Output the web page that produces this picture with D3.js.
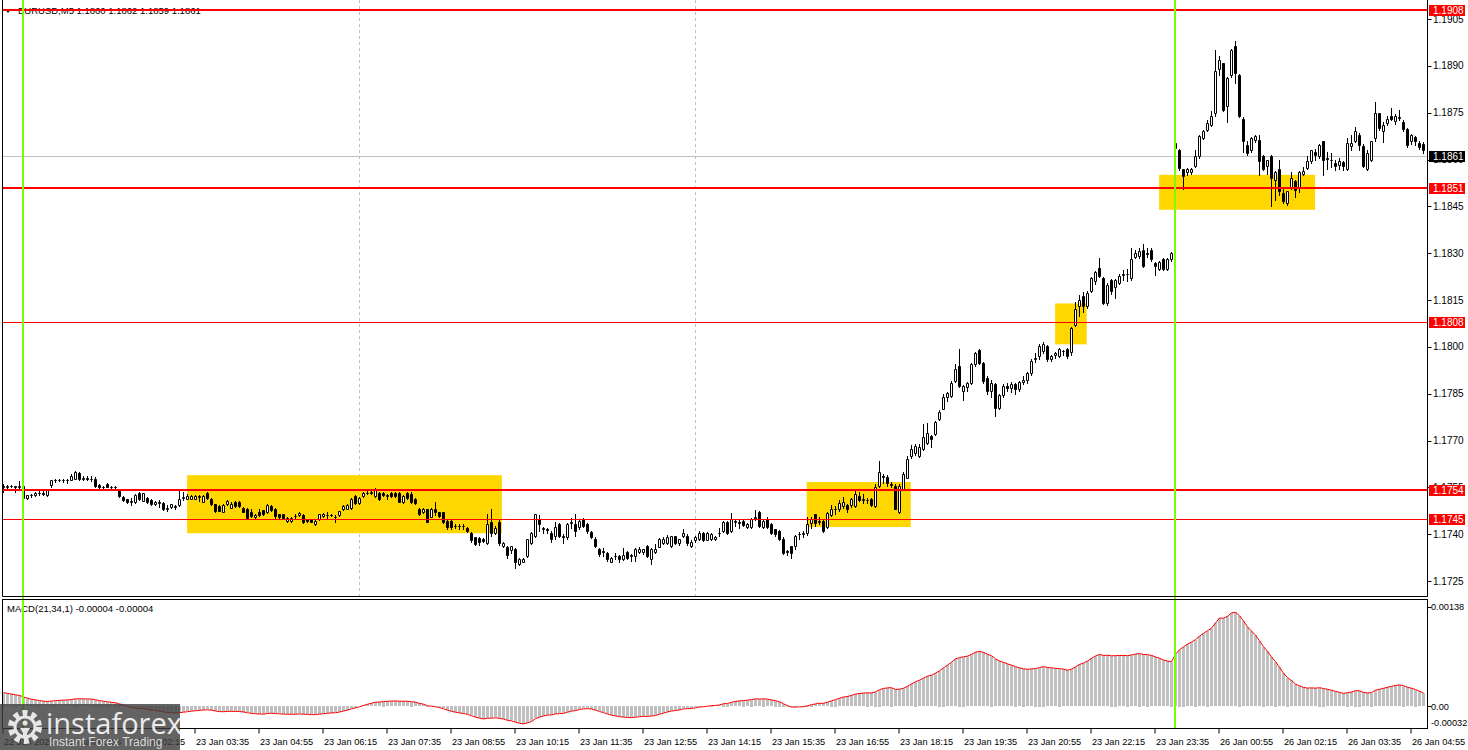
<!DOCTYPE html>
<html>
<head>
<meta charset="utf-8">
<script src="https://cdn.jsdelivr.net/npm/d3@7"></script>
<style>
body { margin: 0; background: #fff; }
svg text { font-family: 'Liberation Sans', Arial, sans-serif; }
</style>
</head>
<body>
<svg width="1468" height="750"></svg>
<script>
var svg = d3.select('svg');

// EURUSD M5 candles, values in pips above 1.1700 (one bar = 5 min, first bar 22 Jan 23:35)
var opens = [
    55.5,55,55.3,55.5,55.2,55.3,51.5,52.4,52.5,53.3,
    53.3,52.5,55.7,57.3,57.2,57.3,57.2,57.4,57.6,59.5,
    57.8,58.0,57.8,57.6,55.8,55,56.2,55.2,55.0,54.5,
    52.0,51.2,50.4,50.2,53.2,50.6,51.7,51.0,49.6,50.2,
    50.0,48.2,48.7,49.0,49.3,51.5,51.3,51.4,51.4,52.0,
    50.4,53.3,51.2,49.6,49.0,47.2,49.6,48.5,50.3,50.3,
    48.5,48.0,47.0,45.4,47.0,47.7,47.0,49.0,48.2,46.4,
    46.4,44.2,44.2,45.8,46.0,46.0,44.8,44.8,43.2,45.0,
    45.8,46.2,46.2,45.6,46.0,48.1,48.2,48.3,52.3,50.1,
    52.3,53.3,53.3,52.3,53.3,53.3,52.2,53.2,53.2,53.1,
    50.2,53.2,53.0,51.2,48.0,47.1,48.0,45.6,48.0,47.0,
    47.0,44.3,44.3,42.7,42.5,42.5,42.1,40.4,39.0,38.8,
    38.6,37.3,44.0,40.5,44.0,36.2,36.0,35.0,35.2,30.4,
    31.2,33.0,37.3,39.3,44.8,42,41.5,40.5,39.5,43.2,
    39.5,39.2,43.5,43.2,42.2,45,43.2,40.7,38.6,35.2,
    34.5,34.1,31.2,33.0,33.0,32.0,34.3,33,33,34.2,
    34.2,36.2,32.0,34.2,36.0,37.3,37.3,36.3,39.3,37.3,
    39.3,39.5,36.1,38.2,38.4,40.3,38.2,38.4,38.4,40.3,
    41.1,43.9,41.1,44.3,44.0,44.3,42.2,42.2,45.3,47.1,
    42.2,45,43.2,41.6,41,38.6,34.5,36.1,36.1,40,
    40.2,40.3,43.5,46.4,44.0,44.2,42.2,46.0,48.0,48.0,
    49.0,49.3,49.2,49.0,52.3,51.3,51.0,51.2,49.0,55.5,
    58.5,58.4,56.0,55.5,47.1,54.6,58.1,65.0,65.9,65.0,
    67.2,69.3,71.5,72.0,76.8,80.2,84.0,84.2,89.0,93.8,
    85.8,87.2,88.5,94.4,99,94.9,90.1,85.8,88,80.5,
    84.5,87.5,86.8,88,86.5,88.6,89.5,91.5,96,97,
    98.6,100.2,96,97.5,97,98.8,99.3,98.3,107.1,113,
    116.4,113,117.8,121,125.3,122.1,114.1,121.3,119.3,120.3,
    123,123.2,122,128.9,129,130.9,130,131,127,125,
    128.1,124.8,128,165.2,163.1,156.9,155.9,155.9,157.8,161.2,
    166.8,169.5,171.1,174.8,188.9,190.8,177.2,187.1,196.2,187.1,
    172.9,164.7,163.1,166.3,166.1,161,157.8,161.2,153.3,156.9,
    149.2,146.1,150.8,153,150.8,155.2,157.2,159.4,162.5,161,
    165.8,160.5,160,159,158.3,159.3,157,164.4,165.8,168,
    164.2,157,159.9,166.8,174.8,169,171.8,174,172.2,173.5,
    172.1,169.7,165.8,167.2,165.2,165
];
var highs = [
    56,55.6,55.8,55.5,57,55.3,52.6,52.8,53.6,53.8,
    53.8,54.6,57.5,57.8,57.8,57.7,57.8,59.2,60.3,59.8,
    58.7,58.5,58.6,58.2,56,55.5,56.5,55.4,55.3,54.5,
    52.2,51.2,51.5,52.8,53.5,53.3,51.8,51.2,50.5,50.8,
    50.2,49.3,49.8,49.4,54.3,53.6,52.8,52.6,52.5,52.6,
    52.6,53.6,51.5,49.8,49.2,49.8,50.8,50.2,50.5,50.5,
    48.7,48.5,48,46.4,48,47.8,49.6,49.2,48.3,46.5,
    46.5,45.5,45.5,46.5,47.1,46.5,45,45,44.5,46.6,
    46.8,47.2,46.5,46,47.5,49.4,49.6,51.6,52.5,52,
    53.5,53.8,54.4,54.8,53.6,53.5,52.8,53.5,53.5,53.5,
    52.6,53.5,53.4,51.5,48.5,48.3,48.2,48.3,50.2,47.2,
    47.2,44.5,44.5,43.2,43.3,43.2,42.3,40.6,39.2,39,
    38.8,46.4,48.2,42.5,44.5,37.6,36.2,36.3,35.5,32.5,
    32.4,38.6,40.6,46.6,46,42.3,42,41,44,43.5,
    40,43.5,45.3,46.4,44.8,45.3,43.5,41,39,35.5,
    35.6,34.3,32.6,34,33.2,35.5,34.5,33.6,35.5,35.8,
    35.4,36.5,35.6,37,38.7,39,39.6,39.5,39.5,38.6,
    41.5,40,38,39.5,41,40.8,40.6,40.4,39.5,42,
    44.2,44.2,46.8,44.6,44.8,44.6,43.5,45.2,47.6,47.4,
    44.6,45.4,43.5,41.8,41.2,39,35,36.3,39.8,40.8,
    41,45.5,45.5,46.6,45.5,45,47,49.5,49,51,
    51.8,49.6,51.6,54.4,53.5,53,51.5,51.5,56,63.5,
    59.3,58.8,56.8,56,56,60,65,68.5,69,68.8,
    75.2,75.7,71.7,76.2,79.9,84.8,85.5,89,94.5,99.2,
    87.8,88.8,94.8,98.5,99.4,95.2,90.5,89.5,88.5,85,
    88,88.5,88.8,88.5,89,90.5,92,96,98,101,
    101.5,100.5,97.5,98.5,99.6,99,99.6,106.5,114.3,116.5,
    117.5,117.8,122.5,124.2,128.5,122.5,120.3,121.6,121.6,123.2,
    124.5,125,131.5,131,131.5,133,131.5,131.5,127.2,127.5,
    128.5,128.5,130.5,166.5,163.5,157,157.2,157.2,163,168,
    169.5,172.5,175.5,195,193,191,186.5,195.5,198,187.5,
    173.5,166,167.3,168,168,161.5,160,161.5,156.2,160,
    150.5,150,156,153.4,156.2,157.5,161,163.2,163.5,165,
    166,162.5,162,160,160.5,159.6,167,168,170.5,168.5,
    165,163,166,178.5,175,172,174,176.6,174.5,175.8,
    172.5,170,168.2,167.5,166,165.5
];
var lows = [
    53.5,54.8,55,53.5,54.8,50.3,51.3,52,52.3,52.5,
    52.6,52.3,55,56.8,56.9,56.6,56.3,57.3,57.6,57.5,
    57.5,57.3,57,55,54.8,54.5,55,54.4,54.3,52.0,
    50.5,50.0,49.5,50,51,50.6,50,49.2,49.4,48.8,
    47.8,47.5,48.5,48,49.0,51,51.2,51.2,51.2,50.6,
    50.2,51.3,49.4,47,47.3,47,49.3,48.3,48.8,48.8,
    47,45,45.6,45.2,45.8,46.2,46.8,47.5,45.3,45.2,
    45.2,44.0,44,45.3,45.8,43.7,43.8,43.8,43.0,44.5,
    45.5,45.2,45.8,44,45.8,47.8,48,48,49.8,49.8,
    52,52.8,52.8,52,51,52.2,51.2,52,52,50.2,
    50,51.2,50,49.8,46.2,46.9,43.8,45.4,46.0,45.5,
    43.5,41.8,41.8,42,41.8,41.6,40.8,37.5,36.5,36.6,
    37.4,37.0,39.5,40,36.5,36,32.5,34,29.3,30,
    31,32.8,37,39,41,40.5,40.3,37.5,38.5,39,
    37.3,38.5,42,39.5,41.5,42.2,40.3,38.8,35.8,33,
    33,31.5,31,32,31,31.8,32.2,31.5,31.5,34,
    33.8,32.8,30.5,34,35.8,37,37,36,36.8,36.5,
    39,36.6,35.8,37.5,38,37.8,38,38,38,39.5,
    40.8,40,40.8,42.5,42,42.5,42,42,44.5,42.4,
    42,42,40,39.5,38.2,33.6,33.3,32.5,35.4,38.3,
    39,39.8,42,42.5,43.2,40.8,42,45.8,46.4,47.5,
    48.5,47.2,48.8,48.6,50.5,50,50,49,48.8,55,
    56.5,55.5,55,48,46.8,54.3,58,64.5,65.5,64.8,
    66.9,69,68,71.8,76.6,80,82.5,84,88.8,87,
    83.0,86,88,94,94.5,88.5,85,84,78,80,
    84,86,85.5,85,86,88,88.5,91,95,96,
    98,95.5,95.5,96.5,96.8,97.5,96.5,97.5,106.8,110,
    111,112.5,117.5,120,122.5,113.8,113.5,117,115.5,120,
    121.5,121,121.5,128.5,128.5,125.5,128.8,127.5,123,124.5,
    124.5,124.5,127.5,162.5,156.5,150.5,155,155.5,157.5,160.5,
    166.5,169,170.8,174,187,175.5,172,186.5,184.6,173.5,
    162.5,161.5,162.5,165.5,155,156.5,155.2,145,147,148.5,
    146,145.5,150.5,148,149.5,155,157,159,160,160.5,
    155,157,157.5,156.5,156.8,156.5,156.5,163,165.5,163,
    157.5,156.5,159.5,166,169.5,165.5,171,172.5,171.5,172.5,
    169,164,165,164.5,163.5,162
];
var closes = [
    55.0,55.3,55.5,55.2,55.4,51.5,52.4,52.5,53.3,53.3,
    53.0,54.2,57.3,57.2,57.3,57.2,57.4,58.7,60.0,57.7,
    58.0,57.8,57.6,55.3,55.0,55.2,55.2,55.0,55.1,52.3,
    51.0,50.2,50.6,52.5,51.4,53.1,50.2,49.6,50.2,50.0,
    48.2,48.5,49.6,48.8,51.4,51.8,52.3,52.3,52.2,52.2,
    52.3,51.5,49.6,47.3,47.5,49.3,50.5,49.8,49.1,49.0,
    47.2,45.3,45.9,46.2,46.0,46.4,49.3,47.9,45.7,45.4,
    45.3,45.3,45.3,45.9,46.9,44.0,44.1,44.0,44.2,46.4,
    46.4,46.0,46.2,45.5,47.3,49.1,49.3,51.2,50.1,51.7,
    53.3,53.2,53.4,54.4,51.2,52.4,52.6,52.3,52.3,50.4,
    52.3,51.5,50.2,50.1,46.4,48.0,44.0,48.1,47.0,45.8,
    43.8,42.2,42.2,42.6,42.5,42.6,41.1,38.2,37.0,37.5,
    37.7,43.2,40.3,42.0,37.3,37.3,33.3,36.1,31.2,32.2,
    32.2,38.4,40.3,46.4,43.2,41.7,41.3,38.4,42.2,39.5,
    39.0,43.2,43.8,41.1,44.3,42.7,41.1,39.2,36.1,33.6,
    34.3,32.0,32.4,33.0,32.0,33.3,32.5,33.2,35.2,35.4,
    35.2,33.0,35.2,35.4,38.4,38.6,39.2,39.3,37.1,38.4,
    40.5,37.3,37.5,39.2,40.5,38.2,40.3,40.0,39.2,40.5,
    43.9,40.3,44.8,44.0,43.5,42.9,43.3,44.8,45.5,42.7,
    44.3,42.2,40.5,40.0,38.6,34.1,34.2,34.1,39.5,40.2,
    40.3,43.2,44.8,43.7,44.2,41.1,46.7,48.2,48.2,50.1,
    50.3,48.2,51.2,53.0,51.0,51.0,50.8,49.3,55.2,60.0,
    58.3,56.3,55.6,48.2,55.5,59.2,64.2,67.2,68.2,68.0,
    71.2,72.5,70.4,75.9,79.1,84.0,85.2,88.5,93.0,87.4,
    87.4,88.3,94.4,98.1,94.9,89.0,85.8,88.4,80.5,84.5,
    87.5,86.8,88,86.5,88.6,89.5,91.5,95.5,96.5,100.2,
    101,96,97.2,98,99.3,98.6,97,106.1,112.2,115,
    113.2,117.3,122.1,123.9,122.8,114.1,119.9,117.8,121.3,122.8,
    123.3,123.4,128.1,130.2,130.6,126,129.8,128,125.8,127.1,
    125,128,130,163.7,157.2,154.6,156.9,156.9,161.2,167.6,
    169,171.6,173.8,188.2,191.9,175.9,186,195.1,187.8,173.8,
    165.8,162.0,166.8,167.6,159.4,157,159.7,154.1,155.9,149.8,
    146.6,149.8,154.1,150.1,155.9,156.2,159.4,162.9,161.5,164.7,
    159.9,160.3,159.8,157.8,159.4,157.8,165.2,165.2,169,164.7,
    157.8,162,165.8,174.8,170,171.1,172.9,172.9,174,173.3,
    169.7,164.7,167.9,165.8,164,162.9
];
var basePrice = 1.17;

// time axis labels, one every 16 bars
var timeLabels = [
    '22 Jan 2026', '23 Jan 00:55', '23 Jan 02:15', '23 Jan 03:35', '23 Jan 04:55',
    '23 Jan 06:15', '23 Jan 07:35', '23 Jan 08:55', '23 Jan 10:15', '23 Jan 11:35',
    '23 Jan 12:55', '23 Jan 14:15', '23 Jan 15:35', '23 Jan 16:55', '23 Jan 18:15',
    '23 Jan 19:35', '23 Jan 20:55', '23 Jan 22:15', '23 Jan 23:35', '26 Jan 00:55',
    '26 Jan 02:15', '26 Jan 03:35', '26 Jan 04:55'
];
var labelStep = 16;

var priceTicks = [1.1905, 1.1890, 1.1875, 1.1860, 1.1845, 1.1830, 1.1815, 1.1800,
    1.1785, 1.1770, 1.1755, 1.1740, 1.1725];
var levels = [1.1908, 1.1851, 1.1808, 1.1754, 1.1745];
var levelWidths = [2, 2, 1, 2, 1];
var lastPrice = 1.1861;

var daySeparators = [5, 293];   // bar index of 23 Jan 00:00 and 26 Jan 00:00
var gridBars = [89, 173];

// yellow zones: bar range and price range (pips)
var zoneFrom = [45.9, 200.8, 262.9, 288.9];
var zoneTo = [124.6, 226.8, 270.8, 327.9];
var zoneTop = [58.9, 56.7, 113.9, 155.1];
var zoneBottom = [40.3, 42.3, 100.8, 143.9];

var macdFast = 21, macdSlow = 34;
var macdTicks = [0.00138, 0.00, -0.00032];

function price(v) {
    return basePrice + v / 10000;
}

var n = closes.length;
var plotLeft = 2.5, plotRight = 1427.5;
var mainTop = 0, mainBottom = 596.5;
var macdTop = 599.5, macdBottom = 728.5;

var x = d3.scaleLinear().domain([0, n - 1]).range([3.5, 3.5 + 4 * (n - 1)]);
var y = d3.scaleLinear().domain([1.1725, 1.1905]).range([581, 19]);
var yMacd = d3.scaleLinear().domain([-0.00032, 0.00138]).range([729.5, 606.5]);

// MACD(21,34,1): EMA fast - EMA slow of close, signal = macd
var emaF = closes[0] + 0.3, emaS = closes[0] - 1.6;
var kF = 2 / (macdFast + 1), kS = 2 / (macdSlow + 1);
var macd = closes.map(function(c, i) {
    if (i > 0) {
        emaF = emaF + kF * (c - emaF);
        emaS = emaS + kS * (c - emaS);
    }
    return (emaF - emaS) / 10000;
});

var defs = svg.append('defs');
defs.append('clipPath').attr('id', 'clipMain')
    .append('rect').attr('x', plotLeft).attr('y', mainTop)
    .attr('width', plotRight - plotLeft).attr('height', mainBottom - mainTop);
defs.append('clipPath').attr('id', 'clipMacd')
    .append('rect').attr('x', plotLeft).attr('y', macdTop)
    .attr('width', plotRight - plotLeft).attr('height', macdBottom - macdTop);

var mainG = svg.append('g').attr('clip-path', 'url(#clipMain)');
var macdG = svg.append('g').attr('clip-path', 'url(#clipMacd)');

// grid
mainG.selectAll('.grid')
    .data(gridBars)
    .enter()
    .append('line')
    .attr('x1', function(d) { return x(d); })
    .attr('x2', function(d) { return x(d); })
    .attr('y1', mainTop)
    .attr('y2', mainBottom)
    .attr('stroke', '#c0c0c0')
    .attr('stroke-dasharray', '3,3');

// header
mainG.append('path')
    .attr('d', 'M5,9 L11,9 L8,13 Z')
    .attr('fill', '#000');
mainG.append('text')
    .attr('x', 18)
    .attr('y', 14)
    .text('EURUSD,M5  1.1860 1.1862 1.1859 1.1861')
    .style('font-size', '9.5px')
    .style('fill', '#000');

// zones
mainG.selectAll('.zone')
    .data(d3.range(zoneFrom.length))
    .enter()
    .append('rect')
    .attr('class', 'zone')
    .attr('x', function(i) { return x(zoneFrom[i]); })
    .attr('width', function(i) { return x(zoneTo[i]) - x(zoneFrom[i]); })
    .attr('y', function(i) { return y(price(zoneTop[i])); })
    .attr('height', function(i) { return y(price(zoneBottom[i])) - y(price(zoneTop[i])); })
    .attr('fill', '#ffd700');

// last price line
mainG.append('line')
    .attr('x1', plotLeft).attr('x2', plotRight)
    .attr('y1', Math.round(y(lastPrice)) + 0.5)
    .attr('y2', Math.round(y(lastPrice)) + 0.5)
    .attr('stroke', '#c0c0c0');

// candles
var bars = d3.range(n);
mainG.selectAll('.wick')
    .data(bars)
    .enter()
    .append('line')
    .attr('class', 'wick')
    .attr('x1', function(i) { return x(i); })
    .attr('x2', function(i) { return x(i); })
    .attr('y1', function(i) { return Math.round(y(price(highs[i]))); })
    .attr('y2', function(i) { return Math.round(y(price(lows[i]))) + 1; })
    .attr('stroke', '#000');

mainG.selectAll('.body')
    .data(bars)
    .enter()
    .append('path')
    .attr('class', 'body')
    .attr('d', function(i) {
        var top = Math.round(y(price(Math.max(opens[i], closes[i])))) + 0.5;
        var bottom = Math.round(y(price(Math.min(opens[i], closes[i])))) + 0.5;
        var x0 = x(i) - 1, x1 = x(i) + 1;
        return 'M' + x0 + ',' + top + 'H' + x1 + 'V' + bottom + 'H' + x0 + 'Z';
    })
    .attr('fill', function(i) { return closes[i] >= opens[i] ? '#fff' : '#000'; })
    .attr('stroke', '#000');

// level lines
mainG.selectAll('.level')
    .data(levels)
    .enter()
    .append('line')
    .attr('x1', plotLeft).attr('x2', plotRight)
    .attr('y1', function(d, i) { return Math.round(y(d)) + (levelWidths[i] == 1 ? 0.5 : 0); })
    .attr('y2', function(d, i) { return Math.round(y(d)) + (levelWidths[i] == 1 ? 0.5 : 0); })
    .attr('stroke', '#ff0000')
    .attr('stroke-width', function(d, i) { return levelWidths[i]; });

// MACD histogram and signal line
macdG.selectAll('.hist')
    .data(bars)
    .enter()
    .append('rect')
    .attr('x', function(i) { return x(i) - 1.5; })
    .attr('width', 3)
    .attr('y', function(i) { return Math.round(Math.min(yMacd(macd[i]), yMacd(0))); })
    .attr('height', function(i) { return Math.round(Math.abs(yMacd(macd[i]) - yMacd(0))); })
    .attr('fill', '#c0c0c0');

macdG.append('path')
    .datum(bars)
    .attr('d', d3.line()
        .x(function(i) { return x(i); })
        .y(function(i) { return yMacd(macd[i]); }))
    .attr('fill', 'none')
    .attr('stroke', '#ff0000')
    .attr('stroke-width', 1);

macdG.append('text')
    .attr('x', 7)
    .attr('y', 612)
    .text('MACD(21,34,1) -0.00004 -0.00004')
    .style('font-size', '9.5px')
    .style('fill', '#000');

// day separators
svg.selectAll('.daysep')
    .data(daySeparators)
    .enter()
    .append('line')
    .attr('x1', function(d) { return x(d) - 0.5; })
    .attr('x2', function(d) { return x(d) - 0.5; })
    .attr('y1', 0)
    .attr('y2', macdBottom)
    .attr('stroke', '#7cfc00')
    .attr('stroke-width', 2);

// frames
svg.append('path')
    .attr('d', 'M' + plotLeft + ',0V' + mainBottom + 'H' + plotRight + 'V0')
    .attr('fill', 'none').attr('stroke', '#000');
svg.append('rect')
    .attr('x', plotLeft).attr('y', macdTop)
    .attr('width', plotRight - plotLeft).attr('height', macdBottom - macdTop)
    .attr('fill', 'none').attr('stroke', '#000');

// price axis
var axisG = svg.append('g');
axisG.selectAll('.ptick')
    .data(priceTicks)
    .enter()
    .append('line')
    .attr('x1', plotRight).attr('x2', plotRight + 4)
    .attr('y1', function(d) { return Math.round(y(d)) + 0.5; })
    .attr('y2', function(d) { return Math.round(y(d)) + 0.5; })
    .attr('stroke', '#000');
axisG.selectAll('.plabel')
    .data(priceTicks)
    .enter()
    .append('text')
    .attr('x', 1433)
    .attr('y', function(d) { return y(d) + 3.5; })
    .text(function(d) { return d.toFixed(4); })
    .style('font-size', '10px')
    .style('fill', '#000');

function priceTag(value, color) {
    var cy = Math.round(y(value));
    axisG.append('rect')
        .attr('x', 1429).attr('y', cy - 5)
        .attr('width', 36).attr('height', 11)
        .attr('fill', color);
    axisG.append('text')
        .attr('x', 1433).attr('y', cy + 4)
        .text(value.toFixed(4))
        .style('font-size', '10px')
        .style('fill', '#fff');
}
levels.forEach(function(d) { priceTag(d, '#ff0000'); });
priceTag(lastPrice, '#000');

// macd axis
axisG.selectAll('.mlabel')
    .data(macdTicks)
    .enter()
    .append('text')
    .attr('x', 1431)
    .attr('y', function(d, i) { return i == macdTicks.length - 1 ? 726 : yMacd(d) + 3.5; })
    .text(function(d) { return d == 0 ? '0.00' : d.toFixed(5); })
    .style('font-size', '9.2px')
    .style('fill', '#000');
axisG.selectAll('.mtick')
    .data(macdTicks.slice(0, 2))
    .enter()
    .append('line')
    .attr('x1', plotRight).attr('x2', plotRight + 4)
    .attr('y1', function(d) { return Math.round(yMacd(d)) + 0.5; })
    .attr('y2', function(d) { return Math.round(yMacd(d)) + 0.5; })
    .attr('stroke', '#000');

// time axis
var timeG = svg.append('g');
timeG.selectAll('.ttick')
    .data(timeLabels)
    .enter()
    .append('line')
    .attr('x1', function(d, i) { return x(i * labelStep) - 0.5; })
    .attr('x2', function(d, i) { return x(i * labelStep) - 0.5; })
    .attr('y1', macdBottom)
    .attr('y2', macdBottom + 5)
    .attr('stroke', '#000');
timeG.selectAll('.tlabel')
    .data(timeLabels)
    .enter()
    .append('text')
    .attr('x', function(d, i) { return x(i * labelStep) + 0.5; })
    .attr('y', 745)
    .text(function(d) { return d; })
    .style('font-size', '9.2px')
    .style('fill', '#000');

// watermark
var logo = svg.append('g');
logo.append('rect')
    .attr('x', 0).attr('y', 704)
    .attr('width', 180).attr('height', 46)
    .attr('fill', '#3c3c3c')
    .attr('fill-opacity', 0.8);
logo.append('circle')
    .attr('cx', 25).attr('cy', 727).attr('r', 14)
    .attr('fill', 'none')
    .attr('stroke', '#e6e6e6')
    .attr('stroke-width', 6)
    .attr('stroke-dasharray', '5,4');
logo.append('circle')
    .attr('cx', 25).attr('cy', 727).attr('r', 10)
    .attr('fill', 'none')
    .attr('stroke', '#e6e6e6')
    .attr('stroke-width', 3);
logo.append('circle')
    .attr('cx', 25).attr('cy', 723).attr('r', 2.5)
    .attr('fill', '#e6e6e6');
logo.append('path')
    .attr('d', 'M20,728 L30,728 L27,733 L27,738 L23,738 L23,733 Z')
    .attr('fill', '#e6e6e6');
logo.append('text')
    .attr('x', 46).attr('y', 734)
    .text('instaforex')
    .style('font-family', "'Open Sans', sans-serif")
    .style('font-size', '29px')
    .style('fill', '#ececec');
logo.append('text')
    .attr('x', 49).attr('y', 746)
    .text('Instant Forex Trading')
    .style('font-size', '12px')
    .style('fill', '#dcdcdc');
</script>
</body>
</html>
